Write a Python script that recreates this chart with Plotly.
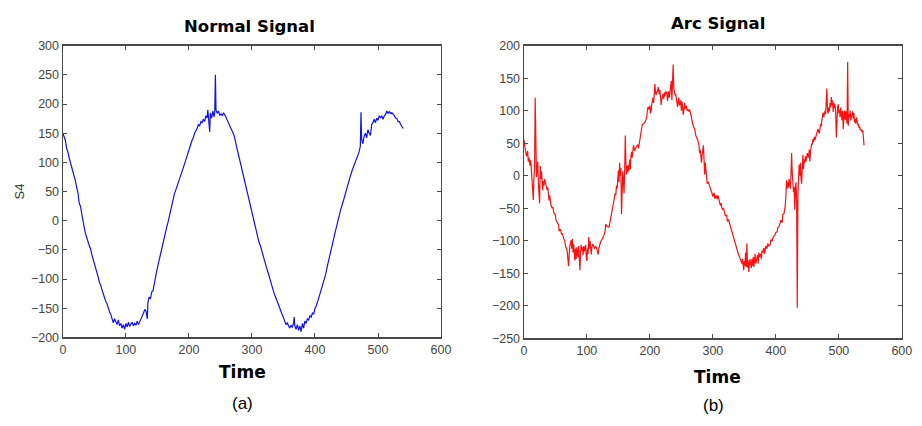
import plotly.graph_objects as go

# ---------------- Normal signal (S4) ----------------
normal_t = [
    0, 2, 4, 6, 8, 10, 12, 14, 16, 18,
    20, 22, 24, 26, 28, 30, 32, 34, 36, 38,
    40, 42, 44, 46, 48, 50, 52, 54, 56, 58,
    60, 62, 64, 66, 68, 70, 72, 74, 76, 78,
    80, 82, 84, 86, 88, 90, 92, 94, 96, 98,
    100, 102, 104, 106, 108, 110, 112, 114, 116, 118,
    120, 122, 124, 126, 128, 130, 132, 134, 135, 137,
    139, 141, 143, 145, 147, 149, 151, 153, 155, 157,
    159, 161, 163, 165, 167, 169, 171, 173, 175, 177,
    179, 181, 183, 185, 187, 189, 191, 193, 195, 197,
    199, 201, 203, 205, 207, 209, 211, 213, 215, 217,
    219, 221, 223, 225, 227, 229, 230, 231, 233, 234,
    236, 238, 240, 241, 242, 243, 245, 247, 249, 251,
    253, 255, 257, 259, 261, 263, 266, 269, 272, 275,
    278, 281, 284, 287, 290, 293, 296, 299, 302, 305,
    308, 311, 314, 317, 320, 323, 326, 329, 332, 335,
    338, 341, 344, 347, 350, 352, 354, 356, 358, 360,
    362, 364, 366, 367, 368, 370, 372, 374, 376, 378,
    380, 382, 384, 386, 388, 390, 392, 394, 396, 398,
    400, 402, 405, 408, 411, 414, 417, 420, 423, 426,
    429, 432, 435, 438, 441, 444, 447, 450, 453, 456,
    459, 462, 465, 468, 470, 472, 473, 474, 476, 478,
    480, 482, 484, 486, 488, 490, 492, 494, 496, 498,
    500, 502, 504, 506, 508, 510, 512, 514, 516, 518,
    520, 522, 524, 526, 528, 530, 532, 534, 536, 538,
    540,
]
normal_v = [
    150, 145, 138, 124, 118, 108, 100, 92, 83, 78,
    68, 57, 48, 30, 25, 12, -4, -12, -22, -32,
    -36, -43, -48, -58, -65, -72, -83, -90, -96, -106,
    -110, -118, -126, -130, -138, -142, -150, -156, -160, -166,
    -175, -168, -172, -178, -170, -180, -176, -184, -178, -186,
    -176, -182, -174, -181, -177, -174, -180, -176, -179, -172,
    -178, -172, -168, -163, -158, -152, -155, -168, -140, -131,
    -134, -122, -120, -106, -95, -86, -76, -66, -55, -45,
    -36, -28, -20, -10, -2, 8, 16, 28, 36, 46,
    52, 58, 66, 70, 78, 83, 90, 97, 104, 110,
    116, 122, 131, 138, 142, 150, 154, 158, 165, 162,
    170, 168, 174, 170, 180, 176, 190, 172, 152, 185,
    176, 188, 178, 186, 250, 190, 184, 188, 181, 183,
    180, 185, 182, 177, 172, 168, 160, 153, 145, 130,
    116, 104, 90, 74, 62, 48, 34, 20, 5, -8,
    -25, -36, -45, -58, -68, -80, -90, -102, -114, -124,
    -132, -142, -150, -158, -166, -172, -178, -175, -180, -184,
    -179, -183, -175, -165, -180, -186, -178, -188, -180, -190,
    -176, -184, -172, -176, -168, -170, -163, -165, -158, -160,
    -150, -146, -136, -126, -114, -104, -92, -76, -60, -46,
    -34, -20, -6, 6, 20, 30, 42, 56, 66, 76,
    86, 94, 104, 112, 118, 128, 186, 140, 132, 145,
    150, 142, 156, 150, 146, 165, 168, 174, 168, 176,
    172, 180, 176, 180, 174, 180, 182, 188, 184, 187,
    184, 185, 183, 180, 176, 175, 170, 170, 165, 162,
    158,
]

# ---------------- Arc signal ----------------
arc_t = [
    0, 1, 3, 4, 6, 7, 8, 10, 11, 12,
    13, 14, 15, 16, 17, 18, 19, 20, 21, 22,
    23, 24, 25, 26, 27, 28, 29, 30, 31, 32,
    33, 35, 37, 38, 40, 41, 43, 45, 46, 48,
    50, 51, 53, 55, 56, 58, 60, 61, 63, 65,
    66, 68, 69, 70, 71, 72, 73, 75, 76, 77,
    78, 79, 80, 81, 82, 83, 84, 85, 86, 87,
    88, 89, 90, 91, 92, 93, 94, 95, 96, 97,
    98, 99, 100, 101, 102, 103, 104, 105, 106, 107,
    108, 109, 110, 112, 114, 116, 118, 119, 120, 122,
    124, 126, 127, 129, 130, 132, 135, 137, 139, 140,
    142, 144, 145, 146, 147, 148, 149, 150, 151, 152,
    153, 154, 155, 156, 157, 158, 159, 160, 161, 162,
    163, 164, 165, 166, 167, 168, 169, 170, 171, 172,
    174, 176, 177, 179, 181, 182, 184, 186, 187, 188,
    190, 192, 194, 195, 196, 197, 199, 200, 201, 202,
    203, 204, 205, 206, 207, 208, 209, 210, 211, 212,
    213, 214, 215, 216, 217, 218, 219, 220, 221, 222,
    223, 224, 225, 226, 227, 228, 229, 230, 231, 232,
    233, 234, 235, 236, 237, 238, 239, 240, 241, 242,
    243, 244, 245, 246, 247, 248, 249, 250, 251, 252,
    253, 254, 255, 256, 257, 258, 259, 260, 262, 263,
    265, 266, 268, 270, 271, 273, 275, 276, 278, 279,
    280, 281, 282, 283, 284, 285, 286, 287, 288, 289,
    290, 291, 293, 295, 297, 299, 300, 302, 303, 305,
    307, 308, 310, 312, 313, 315, 317, 318, 320, 322,
    323, 325, 327, 329, 331, 333, 335, 337, 339, 341,
    343, 344, 346, 347, 348, 349, 350, 351, 352, 353,
    354, 355, 356, 357, 358, 359, 360, 361, 362, 363,
    364, 365, 366, 367, 368, 369, 370, 371, 372, 373,
    374, 376, 377, 378, 379, 381, 382, 384, 386, 387,
    389, 391, 392, 394, 396, 398, 400, 402, 403, 405,
    407, 408, 410, 411, 413, 414, 415, 416, 417, 418,
    419, 420, 421, 422, 423, 424, 425, 426, 427, 428,
    429, 430, 431, 432, 433, 434, 435, 436, 437, 438,
    439, 440, 441, 442, 443, 444, 445, 446, 447, 448,
    449, 450, 451, 452, 453, 454, 455, 456, 457, 458,
    459, 460, 461, 462, 464, 465, 467, 468, 469, 471,
    472, 473, 475, 476, 477, 478, 479, 480, 481, 482,
    483, 484, 485, 486, 487, 488, 489, 490, 491, 492,
    493, 494, 495, 496, 497, 498, 499, 500, 501, 502,
    503, 504, 505, 506, 507, 508, 509, 510, 511, 512,
    513, 514, 515, 516, 517, 518, 519, 520, 521, 522,
    523, 524, 525, 526, 527, 528, 529, 530, 531, 532,
    533, 534, 535, 536, 537, 538, 539, 540,
]
arc_v = [
    56, 50, 42, 30, 38, 22, 28, 15, 24, 6,
    -10, -20, -37, -2, 10, 120, 20, -2, 12, 22,
    -10, -30, -42, 15, -5, 7, -15, -22, -8, -15,
    -5, -15, -22, -18, -38, -30, -45, -50, -48, -58,
    -60, -68, -72, -75, -85, -82, -90, -88, -96, -100,
    -108, -112, -118, -125, -139, -120, -108, -99, -112, -97,
    -118, -105, -122, -130, -112, -128, -110, -118, -125, -108,
    -130, -145, -120, -106, -115, -110, -122, -108, -116, -112,
    -106, -124, -131, -112, -120, -94, -112, -100, -118, -121,
    -110, -105, -106, -112, -108, -113, -121, -112, -106, -101,
    -98, -95, -92, -85, -74, -78, -79, -70, -60, -52,
    -45, -35, -27, -30, -15, -20, -2, 8, -10, 20,
    0, 12, -59, -10, 7, -5, -27, 5, 62, 20,
    2, 15, 5, 17, 8, 25, 10, 30, 37, 28,
    47, 38, 42, 45, 48, 42, 54, 60, 72, 79,
    80, 82, 87, 90, 100, 106, 102, 108, 96, 99,
    110, 115, 120, 112, 130, 141, 128, 124, 130, 128,
    136, 134, 125, 132, 120, 109, 118, 122, 126, 118,
    128, 122, 130, 126, 129, 115, 125, 130, 120, 128,
    135, 146, 116, 140, 171, 135, 128, 124, 126, 118,
    112, 106, 115, 120, 108, 112, 116, 100, 114, 105,
    94, 100, 112, 104, 104, 108, 100, 102, 99, 102,
    96, 90, 79, 75, 72, 62, 58, 55, 47, 35,
    40, 28, 20, 32, 45, 47, 25, 2, 20, 8,
    -2, -12, -10, -18, -22, -28, -32, -26, -35, -30,
    -36, -30, -40, -46, -42, -52, -50, -54, -62, -60,
    -70, -68, -75, -82, -88, -95, -102, -108, -119, -122,
    -126, -130, -135, -128, -140, -145, -131, -138, -118, -140,
    -104, -141, -130, -148, -136, -128, -136, -142, -128, -138,
    -125, -140, -132, -120, -135, -128, -129, -122, -135, -118,
    -125, -120, -128, -115, -118, -111, -120, -108, -112, -104,
    -108, -106, -98, -100, -94, -92, -87, -86, -80, -78,
    -72, -68, -72, -60, -58, -52, -45, -30, -7, -20,
    -10, -18, -5, -12, -20, 0, 35, 5, -15, -25,
    -17, -52, -20, -10, -40, -203, -30, 10, 17, 0,
    20, -5, -12, 15, 32, 10, 25, 20, 30, 22,
    27, 35, 30, 28, 40, 22, 38, 45, 50, 48,
    57, 52, 60, 55, 62, 66, 72, 68, 65, 80,
    76, 85, 97, 90, 96, 100, 95, 110, 134, 100,
    96, 105, 99, 112, 105, 121, 108, 116, 98, 112,
    104, 110, 96, 59, 95, 105, 110, 96, 101, 90,
    105, 94, 85, 100, 72, 92, 100, 86, 99, 90,
    80, 175, 77, 95, 90, 100, 85, 92, 98, 99,
    88, 96, 82, 87, 80, 90, 84, 78, 80, 74,
    76, 70, 72, 68, 67, 70, 58, 47,
]

x_ticks = [0, 100, 200, 300, 400, 500, 600]
normal_y_ticks = [-200, -150, -100, -50, 0, 50, 100, 150, 200, 250, 300]
arc_y_ticks = [-250, -200, -150, -100, -50, 0, 50, 100, 150, 200]

W, H = 922, 426
AXIS_COLOR = "#4a4a4a"
TICK_FONT = dict(family="Liberation Sans, Arial, sans-serif", size=12.5, color="#454545")

fig = go.Figure()
fig.add_trace(go.Scatter(x=normal_t, y=normal_v, mode="lines",
                         line=dict(color="#1010f0", width=1.2), xaxis="x", yaxis="y",
                         showlegend=False, hoverinfo="skip"))
fig.add_trace(go.Scatter(x=arc_t, y=arc_v, mode="lines",
                         line=dict(color="#ff1010", width=1.2), xaxis="x2", yaxis="y2",
                         showlegend=False, hoverinfo="skip"))


def px_x(p):
    return p / W


def px_y(p):
    return 1 - p / H


axis_common = dict(showgrid=False, zeroline=False, showline=True, linecolor=AXIS_COLOR,
                   linewidth=1.3, mirror="ticks", ticks="inside", ticklen=4,
                   tickcolor=AXIS_COLOR, tickwidth=1, tickfont=TICK_FONT)

fig.update_layout(
    width=W, height=H,
    margin=dict(l=0, r=0, t=0, b=0),
    paper_bgcolor="white", plot_bgcolor="white",
    xaxis=dict(domain=[px_x(60.7), px_x(444.3)], range=[0, 600], tickvals=x_ticks,
               anchor="y", **axis_common),
    yaxis=dict(domain=[px_y(341.7), px_y(40)], range=[-200, 300], tickvals=normal_y_ticks,
               anchor="x", **axis_common),
    xaxis2=dict(domain=[px_x(528.3), px_x(911.7)], range=[0, 600], tickvals=x_ticks,
                anchor="y2", **axis_common),
    yaxis2=dict(domain=[px_y(342.7), px_y(40)], range=[-250, 200], tickvals=arc_y_ticks,
                anchor="x2", **axis_common),
)

title_font = dict(family="DejaVu Sans, Verdana, sans-serif", size=16.5, color="black")
label_font = dict(family="DejaVu Sans, Verdana, sans-serif", size=17, color="black")
cap_font = dict(family="Liberation Sans, Arial, sans-serif", size=17, color="black")

annotations = [
    dict(text="<b>Normal Signal</b>", x=px_x(250.5), y=px_y(20), font=title_font),
    dict(text="<b>Arc Signal</b>", x=px_x(725), y=px_y(17.5), font=title_font),
    dict(text="<b>Time</b>", x=px_x(243), y=px_y(377.5), font=label_font),
    dict(text="<b>Time</b>", x=px_x(725), y=px_y(382.5), font=label_font),
    dict(text="S4", x=px_x(17), y=px_y(191), textangle=-90,
         font=dict(family="Liberation Sans, Arial, sans-serif", size=13, color="#333333")),
    dict(text="(a)", x=px_x(243), y=px_y(410), font=cap_font),
    dict(text="(b)", x=px_x(721), y=px_y(412), font=cap_font),
]
for a in annotations:
    a.update(xref="paper", yref="paper", showarrow=False, xanchor="center", yanchor="middle")
fig.update_layout(annotations=annotations)

fig.write_html("out.html", config={"displayModeBar": False, "staticPlot": True},
               post_script="document.body.style.margin='0';")
